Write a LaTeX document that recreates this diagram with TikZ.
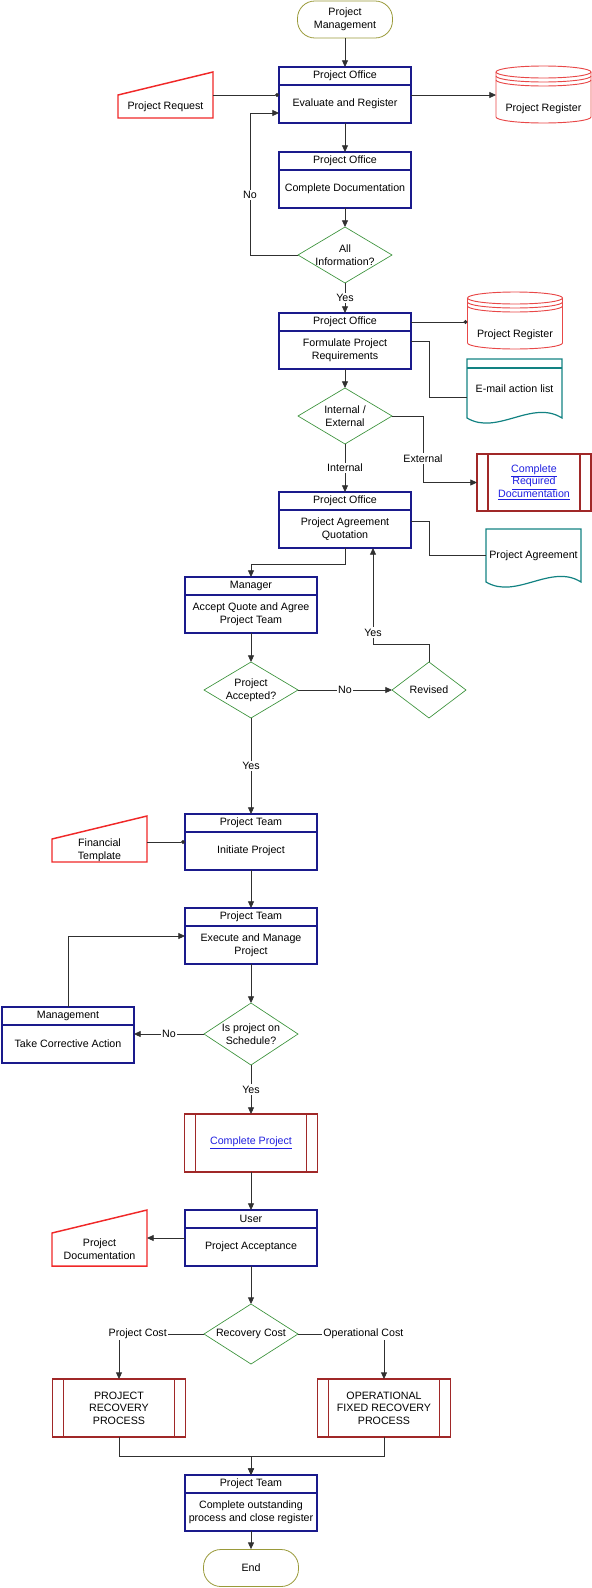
\documentclass[tikz,border=0pt]{standalone}
\usepackage{fontspec}
\setmainfont{Liberation Sans}
\usepackage{tikz}
\usetikzlibrary{arrows.meta,positioning}
\definecolor{FBlue}{HTML}{1A1A8C}
\definecolor{FGreen}{HTML}{3A923A}
\definecolor{FOlive}{HTML}{9A9A3A}
\definecolor{FRed}{HTML}{F02828}
\definecolor{FDbRed}{HTML}{E84848}
\definecolor{FTeal}{HTML}{128282}
\definecolor{FMaroon}{HTML}{A02828}
\definecolor{FGray}{HTML}{303030}
\definecolor{FLink}{HTML}{2020E0}
\newcommand{\lnk}[1]{\textcolor{FLink}{\underline{#1}}}

\begin{document}
\begin{tikzpicture}[x=0.75pt,y=-0.75pt,
  font=\fontsize{8}{9.5}\selectfont,
  phead/.style={draw=FBlue,line width=1.1pt,minimum width=99pt,minimum height=13.5pt,
    inner sep=0pt,outer sep=0pt,fill=white},
  pbody/.style={phead,minimum height=28.5pt,align=center},
  decision/.style={minimum width=70.5pt,minimum height=42pt,inner sep=0pt,outer sep=0pt,align=center},
  decline/.style={draw=FGreen,line width=0.5pt},
  termin/.style={draw=FOlive,line width=0.6pt,rounded corners=13pt,minimum width=71.25pt,
    minimum height=27.75pt,inner sep=0pt,align=center},
  manin/.style={minimum width=71.25pt,minimum height=17.25pt,inner sep=0pt,outer sep=0pt,align=center},
  maninline/.style={draw=FRed,line width=1.1pt},
  dbase/.style={minimum width=71.25pt,minimum height=21pt,inner sep=0pt,outer sep=0pt},
  dbline/.style={draw=FDbRed,line width=0.7pt},
  docu/.style={minimum width=71.25pt,minimum height=44.25pt,inner sep=0pt,outer sep=0pt},
  docline/.style={draw=FTeal,line width=0.9pt},
  predef/.style={draw=FMaroon,line width=0.9pt,minimum width=100pt,minimum height=43.5pt,
    inner sep=0pt,outer sep=0pt,align=center},
  conn/.style={draw=FGray,line width=0.6pt},
  connarr/.style={conn,-{Triangle[length=5pt,width=4.5pt]}},
  conndot/.style={conn,-{Circle[length=3pt]}},
  lbl/.style={fill=white,inner sep=1pt}
]
\useasboundingbox (0,0) rectangle (592,1588);

% main column, upper part
\node[termin] (pm) at (345,19.5) {Project\\Management};
\node[pbody] (ev) at (345,104) {Evaluate and Register};
\node[phead,above=0pt of ev] (evh) {Project Office};
\node[pbody] (cd) at (345,189) {Complete Documentation};
\node[phead,above=0pt of cd] (cdh) {Project Office};
\node[decision] (ai) at (345,255) {All\\Information?};
\node[pbody] (fr) at (345,350) {Formulate Project\\Requirements};
\node[phead,above=0pt of fr] (frh) {Project Office};
\node[decision] (ie) at (345,416) {Internal /\\External};
\node[pbody] (pa) at (345,529) {Project Agreement\\Quotation};
\node[phead,above=0pt of pa] (pah) {Project Office};

% main column, lower part
\node[pbody] (mg) at (251,614) {Accept Quote and Agree\\Project Team};
\node[phead,above=0pt of mg] (mgh) {Manager};
\node[decision] (pacc) at (251,690) {Project\\Accepted?};
\node[decision,minimum width=55.5pt] (rev) at (429,690) {Revised};
\node[pbody] (ip) at (251,851) {Initiate Project};
\node[phead,above=0pt of ip] (iph) {Project Team};
\node[pbody] (ex) at (251,945) {Execute and Manage\\Project};
\node[phead,above=0pt of ex] (exh) {Project Team};
\node[decision,minimum height=46.5pt] (sch) at (251,1034) {Is project on\\Schedule?};
\node[pbody] (tc) at (68,1044) {Take Corrective Action};
\node[phead,above=0pt of tc] (tch) {Management};
\node[predef] (cp) at (251,1143) {\lnk{Complete Project}};
\node[pbody] (ua) at (251,1247) {Project Acceptance};
\node[phead,above=0pt of ua] (uah) {User};
\node[decision,minimum height=45pt] (rc) at (251,1334) {Recovery Cost};
\node[predef] (prp) at (119,1408) {PROJECT\\RECOVERY\\PROCESS};
\node[predef] (ofr) at (384,1408) {OPERATIONAL\\FIXED RECOVERY\\PROCESS};
\node[pbody] (ct) at (251,1512) {Complete outstanding\\process and close register};
\node[phead,above=0pt of ct] (cth) {Project Team};
\node[termin] (end) at (251,1568) {End};

% side items
\node[manin] (preq) at (165.5,106.5) {Project Request};
\node[manin] (ft) at (99.5,850.5) {Financial\\Template};
\node[manin,minimum height=24.75pt] (pd) at (99.5,1249.5) {Project\\Documentation};
\node[dbase] (reg1) at (543.5,109) {Project Register};
\node[dbase] (reg2) at (515,335) {Project Register};
\node[docu] (em) at (514.5,388.5) {E-mail action list};
\node[docu,minimum height=39.75pt] (ag) at (533.5,555.5) {Project Agreement};
\node[predef,minimum width=85.5pt,minimum height=42.75pt] (crd) at (534,482.5)
  {\lnk{Complete}\\\lnk{Required}\\\lnk{Documentation}};

% outlines
\foreach \d in {ai,ie,pacc,rev,sch,rc}
  \draw[decline] (\d.north) -- (\d.east) -- (\d.south) -- (\d.west) -- cycle;
\foreach \m in {preq,ft,pd}
  \draw[maninline] (\m.north west) -- (\m.south west) -- (\m.south east)
    -- ([yshift=17.25pt]\m.north east) -- cycle;
\foreach \r in {reg1,reg2}{
  \draw[dbline] ([yshift=17.25pt]\r.north west) -- ([yshift=4.5pt]\r.south west)
    arc[start angle=180,end angle=360,x radius=35.625pt,y radius=4.5pt]
    -- ([yshift=17.25pt]\r.north east);
  \draw[dbline] ([yshift=17.25pt]\r.north) ellipse[x radius=35.625pt,y radius=4.5pt];
  \draw[dbline] ([yshift=14.25pt]\r.north west)
    arc[start angle=180,end angle=360,x radius=35.625pt,y radius=4.5pt];
  \draw[dbline] ([yshift=11.25pt]\r.north west)
    arc[start angle=180,end angle=360,x radius=35.625pt,y radius=4.5pt];
}
\foreach \d in {em,ag}
  \draw[docline] (\d.south west) -- (\d.north west) -- (\d.north east) -- (\d.south east)
    .. controls ([xshift=-22.5pt,yshift=14.25pt]\d.south east)
    and ([xshift=22.5pt,yshift=-13.5pt]\d.south west) .. (\d.south west) -- cycle;
\draw[docline] ([yshift=-6.75pt]em.north west) -- ([yshift=-6.75pt]em.north east);
\foreach \p in {crd,cp,prp,ofr}
  \draw[predef] ([xshift=8.25pt]\p.north west) -- ([xshift=8.25pt]\p.south west)
    ([xshift=-8.25pt]\p.north east) -- ([xshift=-8.25pt]\p.south east);

% connectors
\foreach \a/\b in {pm/evh,ev/cdh,cd/ai,fr/ie,mg/pacc,ip/exh,ex/sch,cp/uah,ua/rc,ct/end}
  {\draw[connarr] (\a.south) -- (\b.north);}
\draw[connarr] (ai.south) -- node[lbl]{Yes} (frh.north);
\draw[connarr] (ie.south) -- node[lbl]{Internal} (pah.north);
\draw[connarr] (pacc.south) -- node[lbl]{Yes} (iph.north);
\draw[connarr] (sch.south) -- node[lbl]{Yes} (cp.north);
\draw[connarr] (pacc.east) -- node[lbl]{No} (rev.west);
\draw[connarr] (sch.west) -- node[lbl]{No} (sch.west -| tc.east);
\draw[connarr] (ai.west) -- ++(-48,0) |- node[lbl,pos=0.21]{No} ([yshift=-6.75pt]ev.west);
\draw[connarr] (rev.north) -- ++(0,-18) -| node[lbl,pos=0.56]{Yes} ([xshift=21pt]pa.south);
\draw[connarr] (pa.south) -- ++(0,16) -| (mgh.north);
\draw[connarr] (ie.east) -| node[lbl,pos=0.82]{External} ([xshift=-40.5pt]crd.west) -- (crd.west);
\draw[connarr] (tch.north) |- ([yshift=6.75pt]ex.west);
\draw[connarr] (rc.west) -| node[lbl,pos=0.39]{Project Cost} (prp.north);
\draw[connarr] (rc.east) -| node[lbl,pos=0.38]{Operational Cost} (ofr.north);
\draw[connarr] (prp.south) -- ++(0,19) -| (cth.north);
\draw[connarr] (ofr.south) -- ++(0,19) -| (cth.north);

% data links
\draw[conndot] (preq.north east) -- ([yshift=6.75pt]ev.west);
\draw[connarr] ([yshift=6.75pt]ev.east) -- (reg1.north west);
\draw[conndot] (frh.east) -- (frh.east -| reg2.west);
\draw[conn] ([yshift=6.75pt]fr.east) -| ([xshift=-28.5pt,yshift=-6.4pt]em.west) -- ([yshift=-6.4pt]em.west);
\draw[conn] ([yshift=6pt]pa.east) -| ([xshift=-42.75pt]ag.west) -- (ag.west);
\draw[conndot] ([yshift=6.75pt]ip.west -| ft.east) -- ([yshift=6.75pt]ip.west);
\draw[connarr] ([yshift=6.75pt]ua.west) -- ([yshift=6.75pt]ua.west -| pd.east);
\end{tikzpicture}
\end{document}
